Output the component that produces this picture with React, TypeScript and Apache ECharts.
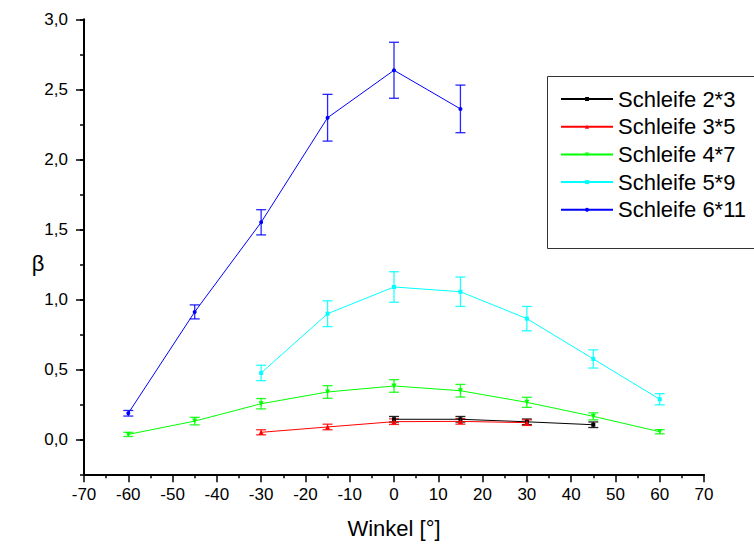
import React, { useEffect, useRef } from "react";
import * as echarts from "echarts";

const seriesNames = ["Schleife 2*3", "Schleife 3*5", "Schleife 4*7", "Schleife 5*9", "Schleife 6*11"];
const seriesColors = ["#000000", "#ff0000", "#00ff00", "#00ffff", "#0000ff"];

const x23 = [0, 15, 30, 45];
const y23 = [0.143, 0.143, 0.125, 0.104];
const e23 = [0.02, 0.02, 0.02, 0.02];

const x35 = [-30, -15, 0, 15, 30];
const y35 = [0.05, 0.088, 0.126, 0.128, 0.119];
const e35 = [0.018, 0.02, 0.02, 0.02, 0.02];

const x47 = [-60, -45, -30, -15, 0, 15, 30, 45, 60];
const y47 = [0.035, 0.13, 0.254, 0.338, 0.381, 0.347, 0.264, 0.164, 0.054];
const e47 = [0.015, 0.027, 0.037, 0.045, 0.045, 0.045, 0.036, 0.025, 0.015];

const x59 = [-30, -15, 0, 15, 30, 45, 60];
const y59 = [0.474, 0.897, 1.088, 1.054, 0.862, 0.574, 0.286];
const e59 = [0.055, 0.092, 0.109, 0.105, 0.087, 0.065, 0.04];

const x611 = [-60, -45, -30, -15, 0, 15];
const y611 = [0.186, 0.91, 1.55, 2.297, 2.636, 2.36];
const e611 = [0.02, 0.05, 0.09, 0.167, 0.2, 0.17];

const xTicks = { min: -70, max: 70, interval: 10 };
const yTicks = { min: 0, max: 3, interval: 0.5 };

const allX = [x23, x35, x47, x59, x611];
const allY = [y23, y35, y47, y59, y611];
const allE = [e23, e35, e47, e59, e611];
const symbols = ["rect", "triangle", "path://M0,0 L10,0 L5,10 Z", "rect", "circle"];
const symbolSizes = [4, 5, 5, 4, 4];

const FONT = 'Arial, "Liberation Sans", sans-serif';

export default function App() {
  const ref = useRef<HTMLDivElement>(null);
  useEffect(() => {
    if (!ref.current) return;
    const chart = echarts.init(ref.current, null, { renderer: "svg" });
    const series: any[] = [];
    seriesNames.forEach((name, i) => {
      const color = seriesColors[i];
      series.push({
        name: "err " + name,
        type: "custom",
        xAxisIndex: 0,
        yAxisIndex: 0,
        data: allX[i].map((x, j) => [x, allY[i][j] - allE[i][j], allY[i][j] + allE[i][j]]),
        encode: { x: 0, y: [1, 2] },
        silent: true,
        renderItem: (params: any, api: any) => {
          const x = api.value(0);
          const top = api.coord([x, api.value(2)]);
          const bot = api.coord([x, api.value(1)]);
          const w = 5;
          const style = { stroke: color, lineWidth: 1.3, opacity: 0.85 };
          return {
            type: "group",
            children: [
              { type: "line", shape: { x1: top[0], y1: top[1], x2: bot[0], y2: bot[1] }, style },
              { type: "line", shape: { x1: top[0] - w, y1: top[1], x2: top[0] + w, y2: top[1] }, style },
              { type: "line", shape: { x1: bot[0] - w, y1: bot[1], x2: bot[0] + w, y2: bot[1] }, style },
            ],
          };
        },
      });
      series.push({
        name,
        type: "line",
        xAxisIndex: 0,
        yAxisIndex: 0,
        data: allX[i].map((x, j) => [x, allY[i][j]]),
        symbol: symbols[i],
        symbolSize: symbolSizes[i],
        showSymbol: true,
        color,
        itemStyle: { color },
        lineStyle: { color, width: 1 },
      });
    });

    chart.setOption({
      animation: false,
      backgroundColor: "#ffffff",
      grid: [
        { left: 84, right: 50, top: 19.3, bottom: 75.7 },
        { left: 84, right: 50, top: 19.3, height: 420 },
      ],
      xAxis: [
        {
          gridIndex: 0,
          type: "value",
          min: xTicks.min,
          max: xTicks.max,
          interval: xTicks.interval,
          axisLine: { show: true, onZero: false, lineStyle: { color: "#000", width: 2 } },
          axisTick: { show: true, inside: false, length: 8, lineStyle: { color: "#000", width: 1.5 } },
          minorTick: { show: true, splitNumber: 2, length: 4, lineStyle: { color: "#000", width: 1.5 } },
          splitLine: { show: false },
          minorSplitLine: { show: false },
          axisLabel: { color: "#000", fontSize: 17, fontFamily: FONT, margin: 12 },
        },
        { gridIndex: 1, type: "value", min: xTicks.min, max: xTicks.max, show: false },
      ],
      yAxis: [
        {
          gridIndex: 0,
          type: "value",
          min: -0.25,
          max: yTicks.max,
          interval: 0.25,
          axisLine: { show: true, onZero: false, lineStyle: { color: "#000", width: 2 } },
          axisTick: { show: true, inside: false, length: 4, lineStyle: { color: "#000", width: 1.5 } },
          axisLabel: { show: false },
          splitLine: { show: false },
        },
        {
          gridIndex: 1,
          type: "value",
          min: yTicks.min,
          max: yTicks.max,
          interval: yTicks.interval,
          axisLine: { show: false, onZero: false },
          axisTick: { show: true, inside: false, length: 8, lineStyle: { color: "#000", width: 1.5 } },
          axisLabel: {
            color: "#000",
            fontSize: 17,
            fontFamily: FONT,
            margin: 16,
            formatter: (v: number) => v.toFixed(1).replace(".", ","),
          },
          splitLine: { show: false },
        },
      ],
      legend: {
        data: seriesNames,
        orient: "vertical",
        left: 560,
        top: 88,
        padding: 0,
        itemWidth: 52,
        itemHeight: 5,
        itemGap: 5.7,
        textStyle: { fontSize: 22, lineHeight: 22, color: "#000", fontFamily: FONT },
      },
      graphic: [
        {
          type: "rect",
          shape: { x: 547.5, y: 76.5, width: 240, height: 172 },
          style: { fill: "none", stroke: "#333", lineWidth: 1 },
          silent: true,
        },
        {
          type: "text",
          x: 394,
          y: 528,
          style: {
            text: "Winkel [°]",
            fontSize: 22,
            fontFamily: FONT,
            fill: "#000",
            textAlign: "center",
            textVerticalAlign: "middle",
          },
        },
        {
          type: "text",
          x: 38,
          y: 263,
          style: {
            text: "β",
            fontSize: 22,
            fontFamily: FONT,
            fill: "#000",
            textAlign: "center",
            textVerticalAlign: "middle",
          },
        },
      ],
      series,
    });
    return () => chart.dispose();
  }, []);
  return (
    <div
      ref={ref}
      style={{ position: "absolute", left: 0, top: 0, width: 754, height: 550 }}
    />
  );
}
